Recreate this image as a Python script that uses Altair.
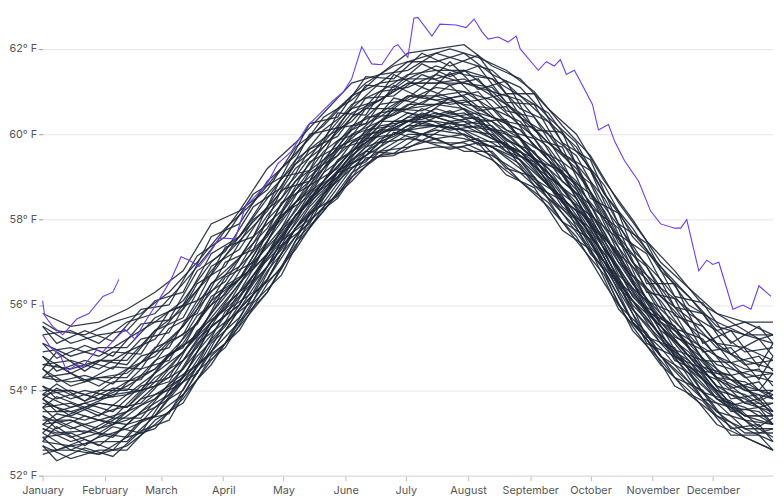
import altair as alt
import pandas as pd

# Day-of-year knots (every 14 days)
days = [0, 14, 28, 42, 56, 70, 84, 98, 112, 126, 140, 154, 168, 182,
        196, 210, 224, 238, 252, 266, 280, 294, 308, 322, 336, 350, 364]
# Second set of knots (shifted by a week)
days_b = [0, 7, 21, 35, 49, 63, 77, 91, 105, 119, 133, 147, 161, 175,
          189, 203, 217, 231, 245, 259, 273, 287, 301, 315, 329, 343, 357, 364]

# Historic years, °F
y01 = [52.7,52.4,52.6,52.6,53.3,53.7,54.8,55.4,56.5,57.3,58.3,58.9,59.6,59.7,59.9,59.6,59.6,58.9,58.4,57.5,56.7,55.4,54.7,53.9,53.4,52.9,52.6]
y02 = [52.5,52.7,52.5,52.9,53.1,53.9,54.6,55.6,56.3,57.5,58.2,59.1,59.5,59.9,59.8,59.8,59.5,59.1,58.5,57.8,56.8,55.6,54.8,54.2,53.4,53.1,52.8]
y03 = [53.1,52.8,53.0,52.9,53.6,54.0,55.1,55.7,56.8,57.6,58.6,59.2,59.8,59.9,60.1,60.0,59.7,59.4,58.6,57.9,57.0,55.6,55.0,54.2,53.7,53.1,53.1]
y04 = [52.9,53.0,52.7,53.2,53.4,54.3,54.9,55.9,56.6,57.8,58.5,59.4,59.8,60.2,60.2,60.1,60.0,59.5,58.8,58.2,57.1,55.9,55.2,54.5,53.8,53.4,53.2]
y05 = [53.4,53.1,53.3,53.2,53.8,54.5,55.3,56.2,56.9,58.1,58.7,59.5,60.1,60.1,60.4,60.2,59.9,59.6,58.9,58.0,57.2,56.1,55.1,54.7,53.8,53.6,53.2]
y06 = [53.2,53.3,53.1,53.5,53.8,54.3,55.5,56.0,57.2,58.0,58.9,59.6,60.0,60.4,60.4,60.5,60.1,59.7,59.1,58.4,57.3,56.3,55.5,54.8,54.1,53.7,53.5]
y07 = [53.8,53.4,53.7,53.6,54.3,54.7,55.6,56.5,57.2,58.4,58.9,59.8,60.1,60.5,60.4,60.6,60.1,59.9,59.0,58.5,57.3,56.4,55.4,54.9,54.1,53.9,53.5]
y08 = [53.6,53.7,53.4,53.9,54.1,54.9,55.6,56.3,57.1,58.1,58.8,59.5,60.0,60.3,60.3,60.2,60.1,59.5,59.0,58.1,57.2,56.0,55.3,54.6,53.9,53.4,53.4]
y09 = [54.1,53.8,54.0,54.0,54.7,55.0,56.2,56.6,57.7,58.4,59.4,59.9,60.5,60.6,60.9,60.7,60.6,59.9,59.5,58.6,57.7,56.5,55.8,55.0,54.5,54.0,54.0]
y10 = [53.9,54.0,53.8,54.2,54.5,55.2,56.0,56.9,57.6,58.7,59.3,60.1,60.4,60.9,60.9,61.0,60.6,60.3,59.5,58.9,57.8,56.9,55.9,55.3,54.6,54.4,54.2]
y11 = [54.5,54.1,54.3,54.3,55.0,55.3,56.5,56.9,58.0,58.7,59.6,60.1,60.7,60.8,61.1,61.0,60.8,60.2,59.7,58.8,58.0,56.7,56.1,55.2,54.8,54.3,54.4]
y12 = [54.3,54.4,54.1,54.5,54.8,55.5,56.3,57.1,57.8,58.9,59.4,60.2,60.5,60.9,60.8,60.9,60.4,60.1,59.4,58.8,57.6,56.7,55.6,55.2,54.3,54.2,53.8]
y13 = [54.8,54.4,54.7,54.6,55.4,55.7,56.9,57.3,58.3,59.0,59.9,60.3,61.0,61.1,61.4,61.2,61.1,60.4,60.0,59.1,58.2,57.0,56.4,55.5,55.1,54.6,54.7]
y14 = [54.6,54.7,54.5,54.9,55.2,56.0,56.7,57.6,58.3,59.3,59.8,60.6,60.8,61.3,61.3,61.5,61.0,60.8,60.0,59.5,58.3,57.4,56.4,55.9,55.1,55.0,54.7]
y15 = [55.1,54.8,55.0,55.0,55.7,56.0,57.2,57.6,58.6,59.3,60.1,60.6,61.2,61.3,61.6,61.4,61.3,60.6,60.3,59.3,58.5,57.3,56.6,55.8,55.4,54.9,55.0]
y16 = [55.5,55.1,55.3,55.4,56.1,56.3,57.6,57.9,58.9,59.5,60.4,60.8,61.4,61.5,61.9,61.7,61.5,60.9,60.5,59.6,58.8,57.6,56.9,56.0,55.6,55.3,55.3]
y17 = [55.8,55.5,55.6,55.9,56.3,56.8,57.9,58.2,59.2,59.8,60.5,61.2,61.4,61.9,62.0,62.1,61.6,61.3,60.6,60.0,58.9,58.0,57.0,56.4,55.8,55.6,55.6]
y18 = [53.0,52.6,52.9,53.1,53.4,54.2,54.9,55.9,56.6,57.8,58.4,59.3,59.7,60.1,59.9,60.0,59.7,59.3,58.5,58.0,56.9,55.8,54.8,54.4,53.5,53.3,52.9]
y19 = [53.3,53.3,53.0,53.4,53.9,54.3,55.5,56.0,57.1,57.9,58.8,59.4,60.0,60.3,60.2,60.3,59.9,59.6,58.8,58.2,57.0,56.1,55.3,54.5,54.0,53.4,53.4]
y20 = [53.7,53.5,53.7,53.6,54.2,54.9,55.7,56.5,57.4,58.2,59.1,59.6,60.3,60.3,60.6,60.4,60.3,59.7,59.2,58.3,57.5,56.2,55.6,54.8,54.3,53.7,53.7]
y21 = [52.8,52.7,52.8,52.8,53.4,53.9,54.9,55.6,56.6,57.6,58.3,59.2,59.6,60.0,60.0,59.9,59.7,59.2,58.6,57.7,56.8,55.6,54.8,54.1,53.5,53.0,53.0]
y22 = [54.0,54.0,53.8,54.1,54.5,55.1,56.1,56.6,57.7,58.6,59.2,60.0,60.3,60.7,60.7,60.8,60.4,60.1,59.4,58.7,57.6,56.6,55.7,55.1,54.4,54.1,53.9]
y23 = [54.3,54.2,54.3,54.4,54.9,55.5,56.5,57.1,58.1,58.9,59.7,60.4,60.8,61.2,61.2,61.2,61.0,60.4,59.8,59.2,58.1,57.0,56.2,55.5,54.8,54.5,54.4]
y24 = [54.9,55.0,54.8,55.2,55.6,56.1,57.0,57.6,58.5,59.4,59.9,60.7,61.0,61.4,61.5,61.5,61.3,60.9,60.3,59.7,58.6,57.7,56.9,56.2,55.5,55.3,55.1]
y25 = [55.3,55.4,55.1,55.6,55.8,56.5,57.3,58.2,58.7,59.7,60.2,60.9,61.2,61.7,61.7,61.9,61.4,61.1,60.4,59.8,58.6,57.8,56.8,56.2,55.4,55.6,55.3]
y26 = [53.2,52.9,53.1,53.3,53.6,54.2,55.2,55.9,56.9,57.8,58.6,59.3,59.9,60.1,60.2,60.1,59.8,59.4,58.8,58.0,57.0,55.9,55.1,54.4,53.8,53.3,53.2]
y27 = [53.5,53.5,53.3,53.5,54.1,54.5,55.6,56.2,57.2,58.1,58.9,59.6,60.2,60.3,60.5,60.3,60.2,59.6,59.1,58.3,57.4,56.2,55.5,54.7,54.0,53.8,53.4]
y28 = [53.9,53.6,53.8,53.9,54.4,54.9,55.8,56.6,57.5,58.4,59.2,59.8,60.3,60.6,60.7,60.6,60.3,59.9,59.2,58.6,57.5,56.5,55.6,55.0,54.3,54.0,53.8]
y29 = [52.6,52.6,52.5,52.7,53.2,53.8,54.7,55.5,56.3,57.4,58.2,59.0,59.5,59.6,59.7,59.7,59.4,58.9,58.3,57.6,56.5,55.5,54.6,54.0,53.2,52.9,52.6]
y30 = [54.6,54.5,54.7,54.7,55.4,55.9,56.8,57.5,58.2,59.2,59.7,60.5,60.8,61.2,61.2,61.3,60.9,60.5,59.8,59.3,58.0,57.2,56.2,55.7,55.0,54.7,54.5]

z01 = [52.7,52.35,52.65,52.45,53.05,53.3,54.45,55.0,56.05,56.7,58.0,58.5,59.45,59.5,59.85,59.65,59.8,59.05,58.75,57.75,57.3,55.9,55.2,54.1,53.75,52.95,52.95,52.6]
z02 = [52.8,53.15,52.7,53.15,53.0,54.0,54.4,55.6,56.1,57.4,57.9,59.1,59.35,60.05,59.85,60.2,59.75,59.7,58.8,58.45,57.2,56.5,55.1,54.8,53.8,53.6,53.0,53.1]
z03 = [53.1,53.0,53.05,52.9,53.5,53.9,54.8,55.5,56.5,57.3,58.3,59.0,59.7,59.95,60.3,60.1,60.2,59.7,59.3,58.4,57.7,56.5,55.7,54.8,54.3,53.6,53.5,53.2]
z04 = [53.4,53.1,53.4,53.2,53.8,54.0,55.1,55.6,56.7,57.4,58.5,59.0,59.9,60.0,60.4,60.15,60.3,59.6,59.35,58.3,57.8,56.4,55.8,54.7,54.4,53.5,53.6,53.2]
z05 = [53.2,53.45,53.3,53.55,53.7,54.4,55.0,56.0,56.6,57.75,58.4,59.4,59.8,60.3,60.35,60.55,60.2,60.05,59.4,58.75,57.75,56.9,55.8,55.2,54.4,54.1,53.6,53.7]
z06 = [53.8,53.5,53.7,53.5,54.1,54.3,55.4,55.9,57.0,57.7,58.8,59.2,60.1,60.2,60.6,60.4,60.5,59.85,59.6,58.6,58.1,56.7,56.1,54.95,54.7,53.8,53.9,53.5]
z07 = [53.6,53.85,53.6,53.9,54.0,54.8,55.3,56.3,56.9,58.1,58.7,59.7,60.0,60.6,60.55,60.85,60.5,60.3,59.55,59.05,57.95,57.2,55.95,55.5,54.55,54.35,53.75,53.9]
z08 = [54.1,53.8,54.0,53.85,54.5,54.7,55.75,56.25,57.3,58.0,59.1,59.5,60.4,60.45,60.9,60.7,60.8,60.1,59.9,58.9,58.35,57.0,56.35,55.25,54.95,54.05,54.2,53.8]
z09 = [53.9,54.15,53.75,54.2,54.25,55.1,55.55,56.65,57.0,58.4,58.8,59.85,60.1,60.85,60.7,61.15,60.55,60.65,59.7,59.35,58.1,57.55,56.1,55.8,54.7,54.65,54.0,54.4]
z10 = [54.5,54.2,54.35,54.15,54.8,55.0,56.1,56.55,57.6,58.2,59.35,59.7,60.6,60.6,61.1,60.85,61.0,60.3,60.15,59.1,58.6,57.2,56.6,55.45,55.2,54.35,54.5,54.1]
z11 = [54.3,54.6,54.2,54.55,54.5,55.45,55.8,57.0,57.3,58.7,58.9,60.15,60.25,61.15,60.85,61.45,60.8,60.95,59.9,59.7,58.3,57.8,56.3,56.15,54.9,55.0,54.25,54.8]
z12 = [54.8,54.45,54.7,54.5,55.2,55.35,56.5,56.9,58.0,58.5,59.65,59.95,60.85,60.9,61.4,61.15,61.3,60.55,60.4,59.35,58.85,57.45,56.9,55.75,55.5,54.65,54.8,54.45]
z13 = [54.5,54.9,54.45,54.9,54.85,55.85,56.1,57.35,57.6,59.0,59.15,60.5,60.45,61.4,61.1,61.7,61.05,61.25,60.1,60.05,58.5,58.15,56.5,56.5,55.1,55.4,54.55,55.1]
z14 = [55.1,54.75,55.05,54.8,55.55,55.65,56.8,57.25,58.3,58.75,60.0,60.15,61.15,61.1,61.65,61.35,61.6,60.75,60.7,59.55,59.15,57.65,57.2,55.95,55.8,54.85,55.2,54.8]
z15 = [55.5,55.1,55.4,55.15,55.9,56.0,57.15,57.6,58.6,59.0,60.25,60.4,61.35,61.3,61.9,61.6,61.85,60.95,60.95,59.8,59.4,57.9,57.45,56.2,56.05,55.1,55.5,55.1]
z16 = [52.9,52.6,52.85,52.6,53.3,53.45,54.6,55.1,56.25,56.85,58.15,58.55,59.6,59.55,60.0,59.75,59.9,59.2,59.0,57.95,57.55,56.0,55.35,54.3,54.0,53.1,53.2,52.8]
z17 = [53.0,53.3,53.0,53.35,53.35,54.15,54.6,55.85,56.3,57.5,58.0,59.15,59.5,60.15,60.0,60.3,59.85,59.8,58.95,58.55,57.35,56.65,55.25,55.0,53.95,53.75,53.15,53.35]
z18 = [53.6,53.3,53.6,53.35,54.0,54.2,55.2,55.75,56.85,57.55,58.6,59.1,60.0,60.1,60.5,60.3,60.4,59.7,59.45,58.45,58.0,56.55,55.95,54.8,54.5,53.65,53.8,53.4]
z19 = [53.8,54.05,53.75,54.05,54.0,54.85,55.25,56.45,56.85,58.1,58.55,59.65,59.85,60.6,60.4,60.85,60.3,60.35,59.4,59.15,57.85,57.25,55.85,55.5,54.45,54.35,53.8,54.0]
z20 = [55.6,55.4,55.3,55.6,55.8,56.3,57.0,57.8,58.4,59.2,59.9,60.6,61.2,61.6,61.8,62.0,61.8,61.5,61.0,60.2,59.5,58.4,57.5,56.8,56.0,55.6,55.2,55.3]

history_a = [y01,y02,y03,y04,y05,y06,y07,y08,y09,y10,y11,y12,y13,y14,y15,
             y16,y17,y18,y19,y20,y21,y22,y23,y24,y25,y26,y27,y28,y29,y30]
history_b = [z01,z02,z03,z04,z05,z06,z07,z08,z09,z10,z11,z12,z13,z14,z15,
             z16,z17,z18,z19,z20]

# Highlighted years
days_2023 = [0,4,9,12,17,20,27,30,36,41,46,51,56,61,64,69,73,78,83,88,
             96,101,107,112,117,124,132,145,150,154,159,164,169,175,177,182,185,187,194,198,
             206,211,215,219,222,227,232,236,238,247,251,255,258,261,265,269,274,277,282,285,
             290,297,303,308,315,318,321,327,331,334,337,344,349,353,357,363]
temps_2023 = [55.3,55.0,54.8,54.45,54.6,54.55,54.95,54.9,55.2,55.43,55.2,55.6,55.97,56.36,56.6,57.13,57.05,56.9,57.2,57.57,
              57.55,58.3,58.6,58.85,59.3,59.6,60.2,60.8,61.0,61.3,62.05,61.65,61.63,62.05,62.1,61.8,62.72,62.74,62.3,62.58,
              62.56,62.5,62.7,62.4,62.23,62.28,62.16,62.3,62.0,61.5,61.7,61.6,61.75,61.4,61.5,61.15,60.7,60.1,60.23,59.84,
              59.38,58.9,58.2,57.9,57.8,57.8,58.0,56.8,57.05,56.95,57.0,55.9,56.0,55.9,56.45,56.2]
days_2024 = [0, 1, 5, 10, 17, 23, 30, 35, 38]
temps_2024 = [56.1, 55.75, 55.5, 55.3, 55.67, 55.8, 56.2, 56.3, 56.6]

base = pd.Timestamp("2023-01-01")
def iso(d):
    return (base + pd.Timedelta(days=d)).strftime("%Y-%m-%dT%H:%M:%S")

rows = []
for i, vals in enumerate(history_a):
    for d, v in zip(days, vals):
        rows.append({"series": f"a{i}", "date": iso(d), "temp": v})
for i, vals in enumerate(history_b):
    for d, v in zip(days_b, vals):
        rows.append({"series": f"b{i}", "date": iso(d), "temp": v})
hist_df = pd.DataFrame(rows)

rows = []
for d, v in zip(days_2023, temps_2023):
    rows.append({"series": "2023", "date": iso(d), "temp": v})
for d, v in zip(days_2024, temps_2024):
    rows.append({"series": "2024", "date": iso(d), "temp": v})
hi_df = pd.DataFrame(rows)

x_enc = alt.X(
    "date:T",
    scale=alt.Scale(domain=[alt.DateTime(year=2023, month=1, date=1),
                            alt.DateTime(year=2023, month=12, date=31)]),
    axis=alt.Axis(
        title=None, format="%B",
        values=[alt.DateTime(year=2023, month=m, date=1) for m in range(1, 13)],
        labelFlush=False, labelOverlap=False, grid=False,
        domainColor="#dddddd", tickColor="#bbbbbb", tickSize=5,
        labelColor="#555555", labelFont="Inter", labelFontSize=11, labelPadding=4,
    ),
)
y_enc = alt.Y(
    "temp:Q",
    scale=alt.Scale(domain=[52, 62.9], nice=False, zero=False),
    axis=alt.Axis(
        title=None, values=[52, 54, 56, 58, 60, 62],
        labelExpr="datum.value + '° F'", domain=False,
        tickColor="#999999", tickSize=4, gridColor="#e6e6e6",
        labelColor="#555555", labelFont="Inter", labelFontSize=11, labelPadding=2,
    ),
)

hist = alt.Chart(hist_df).mark_line(
    color="#1e2838", strokeWidth=1.3, opacity=0.9, interpolate="linear"
).encode(x=x_enc, y=y_enc, detail="series:N")

hi = alt.Chart(hi_df).mark_line(
    color="#6a3cf5", strokeWidth=1.1
).encode(x=x_enc, y=y_enc, detail="series:N")

chart = alt.layer(hist, hi).properties(
    width=738, height=470, padding={"left": 0, "top": 0, "right": 0, "bottom": 0},
    background="white",
).configure_view(stroke=None)

chart.save("out.html", embed_options={"renderer": "svg", "actions": False})
